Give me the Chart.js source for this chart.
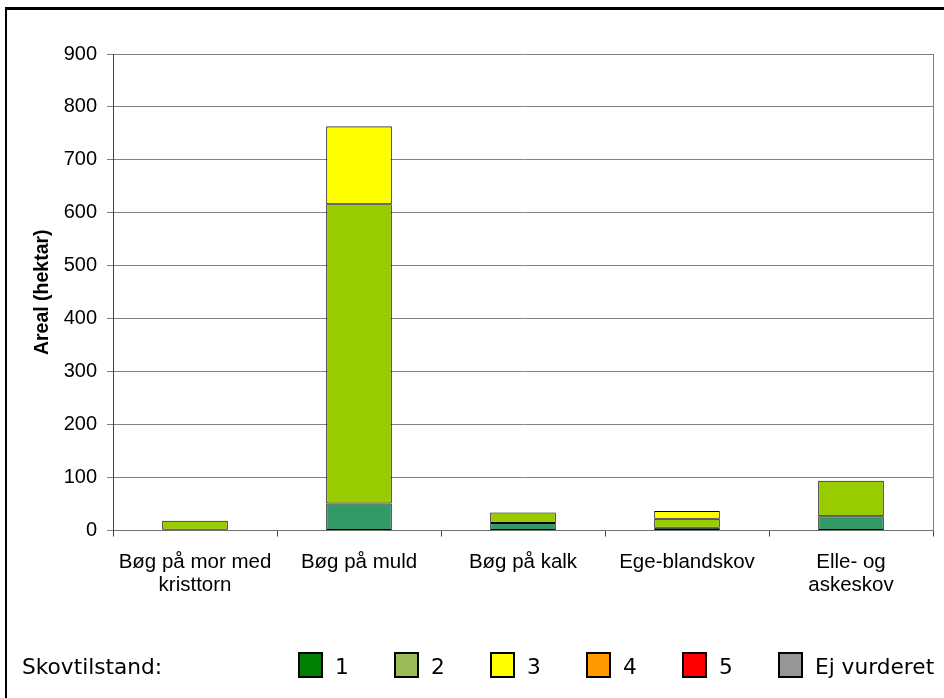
<!DOCTYPE html>
<html>
<head>
<meta charset="utf-8">
<script src="https://cdn.jsdelivr.net/npm/chart.js@4.4.1/dist/chart.umd.min.js"></script>
<style>
  html, body { margin: 0; padding: 0; background: #fff; }
  #wrap { position: relative; width: 944px; height: 698px; overflow: hidden; background: #fff; }
  #frame { position: absolute; left: 5px; top: 7px; width: 1000px; height: 800px;
           border-top: 3px solid #000; border-left: 2px solid #000; box-sizing: border-box; }
  canvas { position: absolute; left: 0; top: 0; }
  .lg { position: absolute; font-family: "DejaVu Sans", Verdana, sans-serif; font-size: 21.7px;
        line-height: 26px; color: #000; white-space: nowrap; }
  .box { position: absolute; width: 25px; height: 26px; box-sizing: border-box; border: 2px solid #000; }
</style>
</head>
<body>
<div id="wrap">
  <div id="frame"></div>
  <canvas id="c" width="944" height="698"></canvas>
  <div id="legend"></div>
</div>
<script>
// ---- data ----
const categories = [["Bøg på mor med", "kristtorn"], "Bøg på muld", "Bøg på kalk", "Ege-blandskov", ["Elle- og", "askeskov"]];
const seriesNames = ["1", "2", "3", "4", "5", "Ej vurderet"];
const s1 = [1.5, 51, 14, 5, 27];
const s2 = [17, 565, 20, 17, 67];
const s3 = [0, 147, 0, 15, 0];
const s4 = [0, 1, 0, 0, 0];
const s5 = [0, 0, 0, 0, 0];
const sEj = [0, 0, 0, 0, 0];
const seriesValues = [s1, s2, s3, s4, s5, sEj];
const barColors = ["#339966", "#99CC00", "#FFFF00", "#FF9900", "#FF0000", "#969696"];
const legendColors = ["#008000", "#9BBB59", "#FFFF00", "#FF9900", "#FF0000", "#969696"];
const legendTitle = "Skovtilstand:";
const yTitle = "Areal (hektar)";
const yMin = 0, yMax = 900, yStep = 100;

const FONT = "'Liberation Sans', Arial, sans-serif";

const rightBorder = {
  id: 'rightBorder',
  afterDraw(chart) {
    const a = chart.chartArea, ctx = chart.ctx;
    ctx.save();
    ctx.strokeStyle = '#808080';
    ctx.lineWidth = 1;
    ctx.beginPath();
    const x = Math.round(a.right) + 0.5;
    ctx.moveTo(x, a.top);
    ctx.lineTo(x, a.bottom);
    ctx.stroke();
    ctx.restore();
  }
};

new Chart(document.getElementById('c'), {
  type: 'bar',
  data: {
    labels: categories,
    datasets: seriesNames.map((n, i) => ({
      label: n,
      data: seriesValues[i],
      backgroundColor: barColors[i],
      borderColor: '#000',
      borderWidth: 1,
      borderSkipped: false,
      barPercentage: 0.4,
      categoryPercentage: 1.0
    }))
  },
  options: {
    responsive: false,
    animation: false,
    devicePixelRatio: 1,
    layout: { padding: { top: 54, right: 11, bottom: 77.5, left: 0 } },
    plugins: { legend: { display: false }, tooltip: { enabled: false } },
    scales: {
      x: {
        stacked: true,
        afterFit(scale) { scale.height = 90; },
        grid: { display: true, drawOnChartArea: false, tickLength: 6, tickColor: '#404040', color: '#404040' },
        border: { color: '#707070', width: 1 },
        ticks: { font: { family: FONT, size: 20.5, lineHeight: 1.1 }, color: '#000', padding: 15, maxRotation: 0, autoSkip: false }
      },
      y: {
        stacked: true,
        min: yMin, max: yMax,
        afterFit(scale) { scale.width = 113; },
        grid: { color: '#808080', tickLength: 6, lineWidth: 1 },
        border: { color: '#404040', width: 1 },
        ticks: { stepSize: yStep, font: { family: FONT, size: 20 }, color: '#000', padding: 10 },
        title: { display: true, text: yTitle, color: '#000', font: { family: FONT, size: 19.5, weight: 'bold', lineHeight: 1.2 }, padding: { top: 31.3, bottom: 0 } }
      }
    }
  },
  plugins: [rightBorder]
});

// ---- legend (HTML text) ----
const lg = document.getElementById('legend');
const t = document.createElement('div');
t.className = 'lg';
t.style.left = '22px'; t.style.top = '654px';
t.textContent = legendTitle;
lg.appendChild(t);
seriesNames.forEach((n, i) => {
  const L = 298 + i * 96;
  const b = document.createElement('div');
  b.className = 'box';
  b.style.left = L + 'px'; b.style.top = '652px';
  b.style.background = legendColors[i];
  lg.appendChild(b);
  const s = document.createElement('div');
  s.className = 'lg';
  s.style.left = (L + 37) + 'px'; s.style.top = '654px';
  s.textContent = n;
  lg.appendChild(s);
});
</script>
</body>
</html>
